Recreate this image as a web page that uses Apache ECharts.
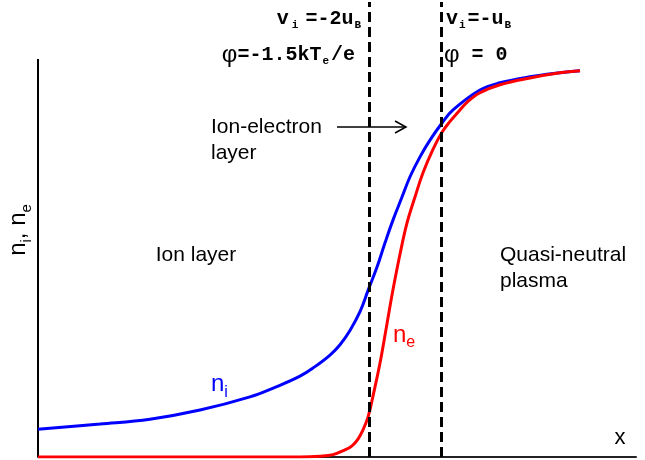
<!DOCTYPE html>
<html>
<head>
<meta charset="utf-8">
<script src="https://cdn.jsdelivr.net/npm/echarts@6/dist/echarts.min.js"></script>
<style>
  html, body { margin: 0; padding: 0; background: #fff; }
  #chart { width: 645px; height: 460px; }
</style>
</head>
<body>
<div id="chart"></div>
<script>
// Ion density n_i (blue) (x in arbitrary units 0..10, y normalized)
const niX = [0, 1.037, 1.873, 2.709, 3.545, 3.963, 4.381, 4.632, 4.883, 5.050, 5.217, 5.385, 5.518, 5.669, 5.803, 5.936, 6.087, 6.221, 6.388, 6.555, 6.756, 6.940, 7.391, 7.726, 8.227, 8.729, 9.064];
const niY = [0.070, 0.083, 0.095, 0.118, 0.151, 0.175, 0.203, 0.227, 0.256, 0.282, 0.318, 0.365, 0.418, 0.477, 0.538, 0.595, 0.653, 0.704, 0.754, 0.796, 0.839, 0.872, 0.922, 0.940, 0.955, 0.965, 0.970];
// Electron density n_e (red)
const neX = [0, 4.381, 4.716, 4.933, 5.134, 5.251, 5.351, 5.435, 5.518, 5.602, 5.719, 5.836, 5.936, 6.054, 6.171, 6.304, 6.438, 6.605, 6.756, 6.890, 7.023, 7.174, 7.391, 7.726, 8.227, 8.729, 9.064];
const neY = [0, 0, 0.002, 0.006, 0.018, 0.028, 0.045, 0.068, 0.100, 0.153, 0.236, 0.335, 0.420, 0.510, 0.588, 0.653, 0.714, 0.773, 0.816, 0.843, 0.866, 0.891, 0.915, 0.935, 0.952, 0.965, 0.970];
// Boundaries (dashed lines)
const boundaryX = [5.535, 6.746];
// Axis ranges
const xRange = [0, 10];
const yRange = [0, 1.143];
const yAxisTop = 1;

const ni = niX.map((x, i) => [x, niY[i]]);
const ne = neX.map((x, i) => [x, neY[i]]);

const chart = echarts.init(document.getElementById('chart'), null, { renderer: 'canvas' });
const sans = '"Liberation Sans", Arial, Helvetica, sans-serif';
const mono = '"Liberation Mono", "Courier New", monospace';

const monoRich = {
  m: { fontFamily: mono, fontWeight: 'bold', fontSize: 20, fill: '#000', verticalAlign: 'middle', lineHeight: 24 },
  w: { fontFamily: mono, fontWeight: 'bold', fontSize: 11, fill: '#000', verticalAlign: 'bottom', lineHeight: 24, padding: [0, 7, 0, 3] },
  s: { fontFamily: mono, fontWeight: 'bold', fontSize: 11, fill: '#000', verticalAlign: 'bottom', lineHeight: 24, padding: [0, 2, 0, 1] },
  p: { fontFamily: sans, fontSize: 24, fill: '#000', verticalAlign: 'middle', lineHeight: 24 }
};
function subRich(color, size, subSize, lh) {
  return {
    n: { fontFamily: sans, fontSize: size, fill: color, verticalAlign: 'middle', lineHeight: lh },
    s: { fontFamily: sans, fontSize: subSize, fill: color, verticalAlign: 'bottom', lineHeight: lh }
  };
}

const option = {
  animation: false,
  backgroundColor: '#fff',
  grid: { left: 38, right: 9, top: 2, bottom: 3, containLabel: false },
  xAxis: {
    type: 'value', min: xRange[0], max: xRange[1],
    axisLine: { show: true, lineStyle: { color: '#222', width: 2 } },
    axisTick: { show: false }, axisLabel: { show: false }, splitLine: { show: false }
  },
  yAxis: {
    type: 'value', min: yRange[0], max: yRange[1],
    axisLine: { show: false }, axisTick: { show: false }, axisLabel: { show: false }, splitLine: { show: false }
  },
  series: [
    {
      type: 'line', name: 'yaxis', data: [[xRange[0], 0], [xRange[0], yAxisTop]],
      symbol: 'none', lineStyle: { color: '#000', width: 2 }, z: 1, silent: true
    },
    {
      type: 'line', name: 'n_i', data: ni, symbol: 'none', smooth: 0.4,
      lineStyle: { color: '#0000ff', width: 3 }, z: 3,
      markLine: {
        silent: true, symbol: 'none', label: { show: false },
        lineStyle: { color: '#000', width: 3, type: [10, 5] },
        data: boundaryX.map(v => ({ xAxis: v }))
      }
    },
    {
      type: 'line', name: 'n_e', data: ne, symbol: 'none', smooth: 0.4,
      lineStyle: { color: '#ff0000', width: 3 }, z: 4
    }
  ],
  graphic: [
    { type: 'text', x: 196, y: 255, style: { text: 'Ion layer', font: '21px ' + sans, fill: '#000', align: 'center', verticalAlign: 'middle' } },
    { type: 'text', x: 500, y: 268, style: { text: 'Quasi-neutral\nplasma', font: '21px ' + sans, fill: '#000', align: 'left', verticalAlign: 'middle', lineHeight: 26 } },
    { type: 'text', x: 211, y: 140, style: { text: 'Ion-electron\nlayer', font: '21px ' + sans, fill: '#000', align: 'left', verticalAlign: 'middle', lineHeight: 26 } },
    { type: 'line', shape: { x1: 337, y1: 127, x2: 406, y2: 127 }, style: { stroke: '#000', lineWidth: 1.5 } },
    { type: 'polyline', shape: { points: [[395, 121], [406, 127], [395, 133]] }, style: { stroke: '#000', lineWidth: 1.5, fill: null } },
    { type: 'text', x: 620, y: 438, style: { text: 'x', font: '22px ' + sans, fill: '#000', align: 'center', verticalAlign: 'middle' } },
    { type: 'text', x: 211, y: 384, style: { text: '{n|n}{s|i}', align: 'left', verticalAlign: 'middle', rich: subRich('#0000ff', 24, 16, 34) } },
    { type: 'text', x: 393, y: 335, style: { text: '{n|n}{s|e}', align: 'left', verticalAlign: 'middle', rich: subRich('#ff0000', 24, 16, 32) } },
    { type: 'text', x: 18, y: 230, rotation: Math.PI / 2, style: { text: '{n|n}{s|i}{n|, n}{s|e}', align: 'center', verticalAlign: 'middle', rich: subRich('#000', 24, 15, 32) } },
    { type: 'text', x: 363, y: 19, style: { text: '{m|v}{w|i}{m|=-2u}{s|B}', align: 'right', verticalAlign: 'middle', rich: monoRich } },
    { type: 'text', x: 355, y: 55, style: { text: '{p|φ}{m|=-1.5kT}{s|e}{m|/e}', align: 'right', verticalAlign: 'middle', rich: monoRich } },
    { type: 'text', x: 446, y: 19, style: { text: '{m|v}{s|i}{m|=-u}{s|B}', align: 'left', verticalAlign: 'middle', rich: monoRich } },
    { type: 'text', x: 444, y: 55, style: { text: '{p|φ}{m| = 0}', align: 'left', verticalAlign: 'middle', rich: monoRich } }
  ]
};
chart.setOption(option);
</script>
</body>
</html>
